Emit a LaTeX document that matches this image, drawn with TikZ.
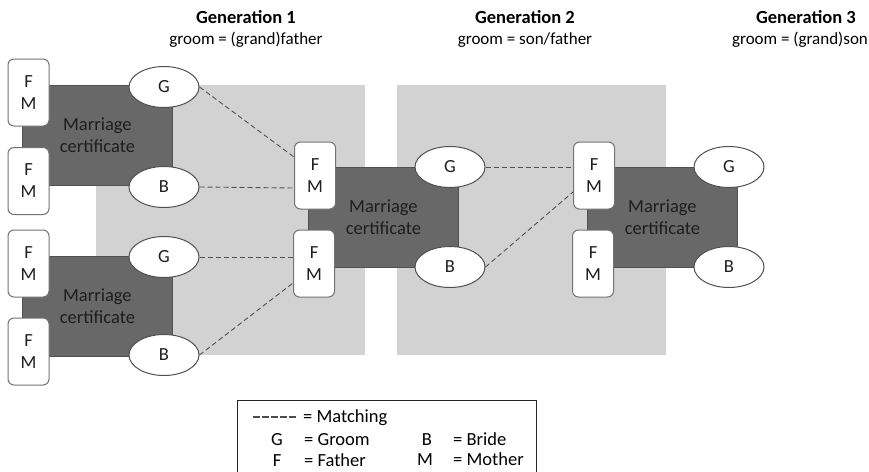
\documentclass[tikz,border=0pt]{standalone}
\usepackage{fontspec}
\setmainfont{Carlito}
\usetikzlibrary{calc,shapes.geometric}
\definecolor{bglight}{HTML}{D2D2D2}
\definecolor{certgray}{HTML}{686868}
\definecolor{edgegray}{HTML}{505050}
\definecolor{txt}{HTML}{1E1E1E}
\tikzset{
  bgbox/.style={fill=bglight, draw=none, inner sep=0pt, anchor=north west},
  cert/.style={fill=certgray, draw=edgegray, line width=0.8pt, inner sep=0pt, anchor=north west,
    align=center, text=txt, font=\fontsize{18.5}{22}\selectfont},
  fmbox/.style={fill=white, draw=edgegray!80, line width=1pt, rounded corners=6pt, inner sep=0pt,
    minimum width=41pt, minimum height=67pt, align=center, text=txt, font=\fontsize{18.5}{22}\selectfont},
  person/.style={ellipse, fill=white, draw=edgegray, line width=1pt, inner sep=0pt,
    minimum width=70pt, minimum height=41pt, text=txt, font=\fontsize{18.5}{22}\selectfont},
  match/.style={draw=edgegray, line width=0.9pt, dash pattern=on 5pt off 3pt},
  gentitle/.style={font=\fontsize{18.5}{22}\selectfont\bfseries, text=black, inner sep=0pt},
  gensub/.style={font=\fontsize{17}{20}\selectfont, text=black, inner sep=0pt},
  legtxt/.style={font=\fontsize{18.5}{22}\selectfont, text=black, inner sep=0pt, anchor=base},
}
\begin{document}
\begin{tikzpicture}[x=1pt,y=-1pt]
\path[use as bounding box, clip] (0,0) rectangle (869,471);
\fill[white] (0,0) rectangle (869,471);

% light background panels
\node[bgbox, minimum width=269pt, minimum height=270pt] (bgA) at (96,85) {};
\node[bgbox, minimum width=269pt, minimum height=270pt] (bgB) at (397,85) {};

% generation headings
\node[gentitle] (g1t) at (246,17) {Generation 1};
\node[gensub] (g1s) at (246,40) {groom = (grand)father};
\node[gentitle] (g2t) at (525,17) {Generation 2};
\node[gensub] (g2s) at (525,40) {groom = son/father};
\node[gentitle] (g3t) at (806,17) {Generation 3};
\node[gensub] (g3s) at (800,40) {groom = (grand)son};

% marriage certificates
\node[cert, minimum width=150pt, minimum height=100pt] (c1) at (22,85) {Marriage\\certificate};
\node[cert, minimum width=150pt, minimum height=100pt] (c2) at (22,256) {Marriage\\certificate};
\node[cert, minimum width=150pt, minimum height=100pt] (c3) at (308,167) {Marriage\\certificate};
\node[cert, minimum width=150pt, minimum height=100pt] (c4) at (587,167) {Marriage\\certificate};

% parents boxes
\node[fmbox] (f1a) at (28.5,92.5) {F\\M};
\node[fmbox] (f1b) at (28.5,181) {F\\M};
\node[fmbox] (f2a) at (28.5,263.5) {F\\M};
\node[fmbox] (f2b) at (28.5,351.5) {F\\M};
\node[fmbox] (f3a) at (315,175.5) {F\\M};
\node[fmbox] (f3b) at (314,263.5) {F\\M};
\node[fmbox] (f4a) at (594,175.5) {F\\M};
\node[fmbox] (f4b) at (593,263.5) {F\\M};

% grooms and brides
\node[person] (g1) at (164,87) {G};
\node[person] (b1) at (164,187) {B};
\node[person] (g2) at (164,257) {G};
\node[person] (b2) at (164,355) {B};
\node[person] (g3) at (450,167) {G};
\node[person] (b3) at (450,267) {B};
\node[person] (g4) at (729,167) {G};
\node[person] (b4) at (729,267) {B};

% matching connectors
\draw[match] (g1.east) -- ([yshift=18.5pt]f3a.west);
\draw[match] (b1.east) -- ([yshift=-12.5pt]f3a.west);
\draw[match] (g2.east) -- ([yshift=6.5pt]f3b.west);
\draw[match] (b2.east) -- ([yshift=-19.5pt]f3b.west);
\draw[match] (g3.east) -- ([yshift=8.5pt]f4a.west);
\draw[match] (b3.east) -- ([yshift=-16.5pt]f4a.west);

% legend
\node[draw=black!85, line width=1.3pt, inner sep=0pt, anchor=north west,
      minimum width=299pt, minimum height=100pt] (leg) at (237,400) {};
\coordinate (ds) at (253,417);
\coordinate (de) at (296,417);
\draw[draw=black!70, line width=1.1pt, dash pattern=on 6.5pt off 2.5pt] (ds) -- (de);
\node[legtxt, anchor=base west] (lm) at (303,422) {= Matching};
\node[legtxt] (lg) at (277,445) {G};
\node[legtxt, anchor=base west] (lgt) at (304,445) {= Groom};
\node[legtxt] (lb) at (427,445) {B};
\node[legtxt, anchor=base west] (lbt) at (453,445) {= Bride};
\node[legtxt] (lf) at (277,466) {F};
\node[legtxt, anchor=base west] (lft) at (304,466) {= Father};
\node[legtxt] (lmo) at (425,465) {M};
\node[legtxt, anchor=base west] (lmot) at (453,465) {= Mother};
\end{tikzpicture}
\end{document}
